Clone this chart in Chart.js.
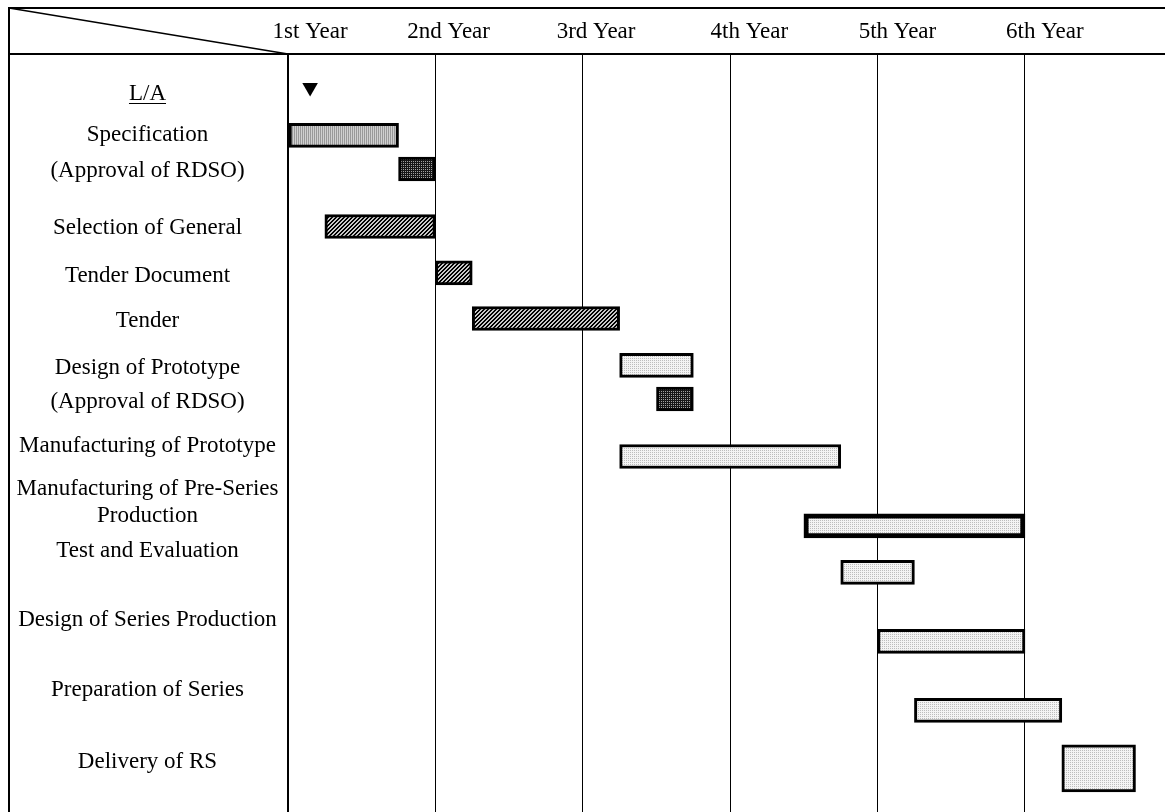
<!DOCTYPE html>
<html>
<head>
<meta charset="utf-8">
<title>Rolling Stock Schedule</title>
<script src="https://cdn.jsdelivr.net/npm/chart.js@4"></script>
<style>
    html, body { margin: 0; padding: 0; background: #fff; overflow: hidden; }
    #wrap { position: absolute; left: 0; top: 0; }
</style>
</head>
<body>
<div id="wrap">
    <canvas id="scheduleChart" width="1165" height="812"></canvas>
</div>
<script>
// schedule data (years from loan agreement)
const yearNames = ['1st Year', '2nd Year', '3rd Year', '4th Year', '5th Year', '6th Year'];
const taskNames = [
    'Specification',
    '(Approval of RDSO)',
    'Selection of General',
    'Tender Document',
    'Tender',
    'Design of Prototype',
    '(Approval of RDSO)',
    'Manufacturing of Prototype',
    ['Manufacturing of Pre-Series', 'Production'],
    'Test and Evaluation',
    'Design of Series Production',
    'Preparation of Series',
    'Delivery of RS'
];
const startYear = [0, 0.75, 0.25, 1, 1.25, 2.25, 2.5, 2.25, 3.5, 3.75, 4, 4.25, 5.25];
const endYear = [0.75, 1, 1, 1.25, 2.25, 2.75, 2.75, 3.75, 5, 4.25, 5, 5.25, 5.75];
const fillKind = ['stripe', 'dark', 'hatch', 'hatch', 'hatch', 'light', 'dark', 'light', 'light', 'light', 'light', 'light', 'light'];
const loanAgreementYear = 0.15;

// layout: row positions on the vertical scale (1 unit = one text line)
const barRow = [1.77, 2.5, 3.75, 4.76, 5.75, 6.77, 7.5, 8.75, 10.26, 11.27, 12.77, 14.27, 15.53];
const labelRow = [1.76, 2.55, 3.78, 4.83, 5.8, 6.82, 7.57, 8.53, 9.75, 10.8, 12.3, 13.82, 15.4];
const milestoneRow = 0.73;
const milestoneLabelRow = 0.87;
const yearLabelAt = [0.15, 1.09, 2.09, 3.13, 4.135, 5.135];
// visible part of the time axis and of the row axis
const xMax = 5.95;
const yMax = 16.48;

const FONT = '23px "Liberation Serif", "Times New Roman", serif';

function makePattern(size, paint) {
    const c = document.createElement('canvas');
    c.width = size;
    c.height = size;
    const g = c.getContext('2d');
    paint(g);
    return g.createPattern(c, 'repeat');
}

const fills = {
    stripe: makePattern(2, g => {
        g.fillStyle = '#999999'; g.fillRect(0, 0, 1, 2);
        g.fillStyle = '#d0d0d0'; g.fillRect(1, 0, 1, 2);
    }),
    dark: makePattern(2, g => {
        g.fillStyle = '#161616'; g.fillRect(0, 0, 2, 2);
        g.fillStyle = '#a0a0a0'; g.fillRect(1, 1, 1, 1);
    }),
    hatch: makePattern(4, g => {
        g.fillStyle = '#c8c8c8'; g.fillRect(0, 0, 4, 4);
        g.fillStyle = '#000000';
        for (let y = 0; y < 4; y++) {
            for (let x = 0; x < 4; x++) {
                if ((x + y) % 4 === 0 || (x + y) % 4 === 1) g.fillRect(x, y, 1, 1);
            }
        }
    }),
    light: makePattern(2, g => {
        g.fillStyle = '#f4f4f4'; g.fillRect(0, 0, 2, 2);
        g.fillStyle = '#bdbdbd'; g.fillRect(0, 0, 1, 1);
    })
};

// the last task (delivery) is drawn as a taller block
const mainIdx = taskNames.map((t, i) => i).slice(0, taskNames.length - 1);
const lastIdx = taskNames.length - 1;

function barPoint(i) {
    return { x: [startYear[i], endYear[i]], y: barRow[i] };
}

const tableDecor = {
    id: 'tableDecor',
    afterDraw(chart) {
        const ctx = chart.ctx;
        const area = chart.chartArea;
        const xs = chart.scales.x;
        const ys = chart.scales.y;
        const left = 9;
        const top = 8;
        const right = chart.width;
        const bottom = chart.height;

        ctx.save();
        ctx.strokeStyle = '#000';
        ctx.lineWidth = 2;
        ctx.beginPath();
        ctx.moveTo(left, bottom);
        ctx.lineTo(left, top);
        ctx.lineTo(right, top);
        ctx.moveTo(left, area.top);
        ctx.lineTo(right, area.top);
        ctx.stroke();

        ctx.lineWidth = 1.3;
        ctx.beginPath();
        ctx.moveTo(left, top);
        ctx.lineTo(area.left, area.top);
        ctx.stroke();

        ctx.fillStyle = '#000';
        ctx.font = FONT;
        ctx.textAlign = 'center';
        ctx.textBaseline = 'middle';
        yearNames.forEach((name, i) => {
            ctx.fillText(name, xs.getPixelForValue(yearLabelAt[i]), (top + area.top) / 2 + 1);
        });

        const cx = (left + area.left) / 2 - 1;
        // L/A milestone label, underlined
        const laY = ys.getPixelForValue(milestoneLabelRow);
        ctx.fillText('L/A', cx, laY);
        const w = ctx.measureText('L/A').width;
        ctx.lineWidth = 1;
        ctx.beginPath();
        ctx.moveTo(cx - w / 2, Math.round(laY + 9) + 0.5);
        ctx.lineTo(cx + w / 2, Math.round(laY + 9) + 0.5);
        ctx.stroke();

        const lineGap = 27;
        taskNames.forEach((name, i) => {
            const lines = Array.isArray(name) ? name : [name];
            const y0 = ys.getPixelForValue(labelRow[i]) - (lines.length - 1) * lineGap / 2;
            lines.forEach((ln, k) => ctx.fillText(ln, cx, y0 + k * lineGap));
        });
        ctx.restore();
    }
};

new Chart(document.getElementById('scheduleChart'), {
    type: 'bar',
    data: {
        datasets: [
            {
                data: mainIdx.map(barPoint),
                backgroundColor: mainIdx.map(i => fills[fillKind[i]]),
                borderColor: '#000',
                borderWidth: mainIdx.map(i => i === 8 ? 5 : 3),
                borderSkipped: false,
                barThickness: 24,
                grouped: false
            },
            {
                data: [barPoint(lastIdx)],
                backgroundColor: fills[fillKind[lastIdx]],
                borderColor: '#000',
                borderWidth: 3,
                borderSkipped: false,
                barThickness: 47,
                grouped: false
            },
            {
                type: 'scatter',
                data: [{ x: loanAgreementYear, y: milestoneRow }],
                pointStyle: 'triangle',
                rotation: 180,
                radius: 9,
                backgroundColor: '#000',
                borderColor: '#000',
                borderWidth: 0
            }
        ]
    },
    options: {
        indexAxis: 'y',
        responsive: false,
        animation: false,
        layout: {
            autoPadding: false,
            padding: { left: 288, top: 54, right: 0, bottom: 0 }
        },
        plugins: {
            legend: { display: false },
            tooltip: { enabled: false }
        },
        scales: {
            x: {
                type: 'linear',
                min: 0,
                max: xMax,
                offset: false,
                z: 1,
                // one grid line at the start of every year
                afterBuildTicks: scale => {
                    scale.ticks = yearNames.map((n, i) => ({ value: i }));
                },
                ticks: { display: false },
                grid: {
                    offset: false,
                    color: '#000',
                    lineWidth: ctx => (ctx.tick && ctx.tick.value === 0) ? 2 : 1,
                    drawTicks: false
                },
                border: { display: false }
            },
            y: {
                type: 'linear',
                reverse: true,
                min: 0,
                max: yMax,
                offset: false,
                grid: { offset: false },
                display: false
            }
        }
    },
    plugins: [tableDecor]
});
</script>
</body>
</html>
